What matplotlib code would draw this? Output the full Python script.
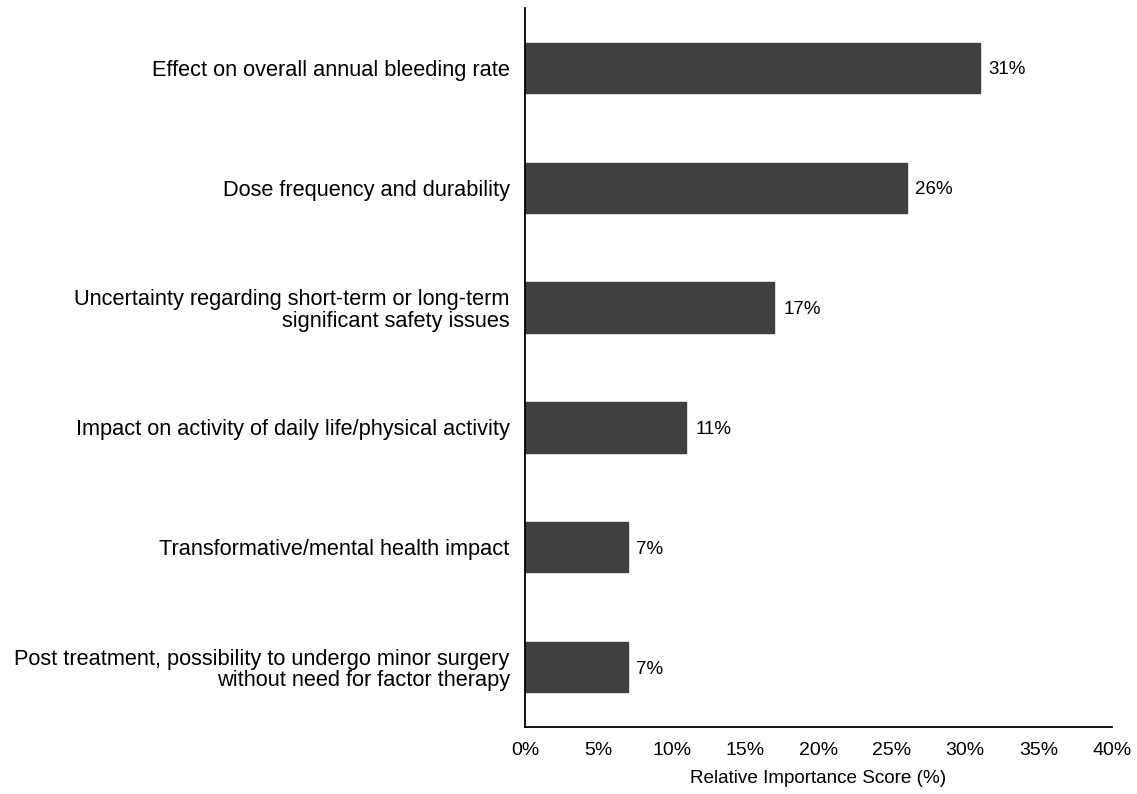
import matplotlib.pyplot as plt

plt.rcParams['font.family'] = ['Liberation Sans', 'DejaVu Sans']

attributes = [
    "Effect on overall annual bleeding rate",
    "Dose frequency and durability",
    "Uncertainty regarding short-term or long-term\nsignificant safety issues",
    "Impact on activity of daily life/physical activity",
    "Transformative/mental health impact",
    "Post treatment, possibility to undergo minor surgery\nwithout need for factor therapy",
]
scores = [31, 26, 17, 11, 7, 7]
xticks = [0, 5, 10, 15, 20, 25, 30, 35, 40]

fig = plt.figure(figsize=(11.37, 7.94), dpi=100)
ax = fig.add_axes([0.4617, 0.0844, 0.978 - 0.4617, 0.990 - 0.0844])

pos = list(range(len(attributes)))
ax.barh(pos, scores, height=0.42, color="#404040", edgecolor="#404040")
for p, s in zip(pos, scores):
    ax.text(s + 0.6, p, f"{s}%", va="center_baseline", ha="left", fontsize=13.5)

ax.set_ylim(5.5, -0.5)
ax.set_xlim(0, 40)
ax.set_yticks(pos)
ax.set_yticklabels(attributes, fontsize=15.7, ha="right", multialignment="right",
                   linespacing=1.05)
ax.set_xticks(xticks)
ax.set_xticklabels([f"{t}%" for t in xticks], fontsize=14)
ax.tick_params(axis="both", length=0)
ax.tick_params(axis="y", pad=11)
ax.tick_params(axis="x", pad=11)
ax.set_xlabel("Relative Importance Score (%)", fontsize=13.6, labelpad=8)

for side in ["top", "right"]:
    ax.spines[side].set_visible(False)
for side in ["left", "bottom"]:
    ax.spines[side].set_linewidth(1.3)
    ax.spines[side].set_color("black")

fig.savefig("out.png", dpi=100)
